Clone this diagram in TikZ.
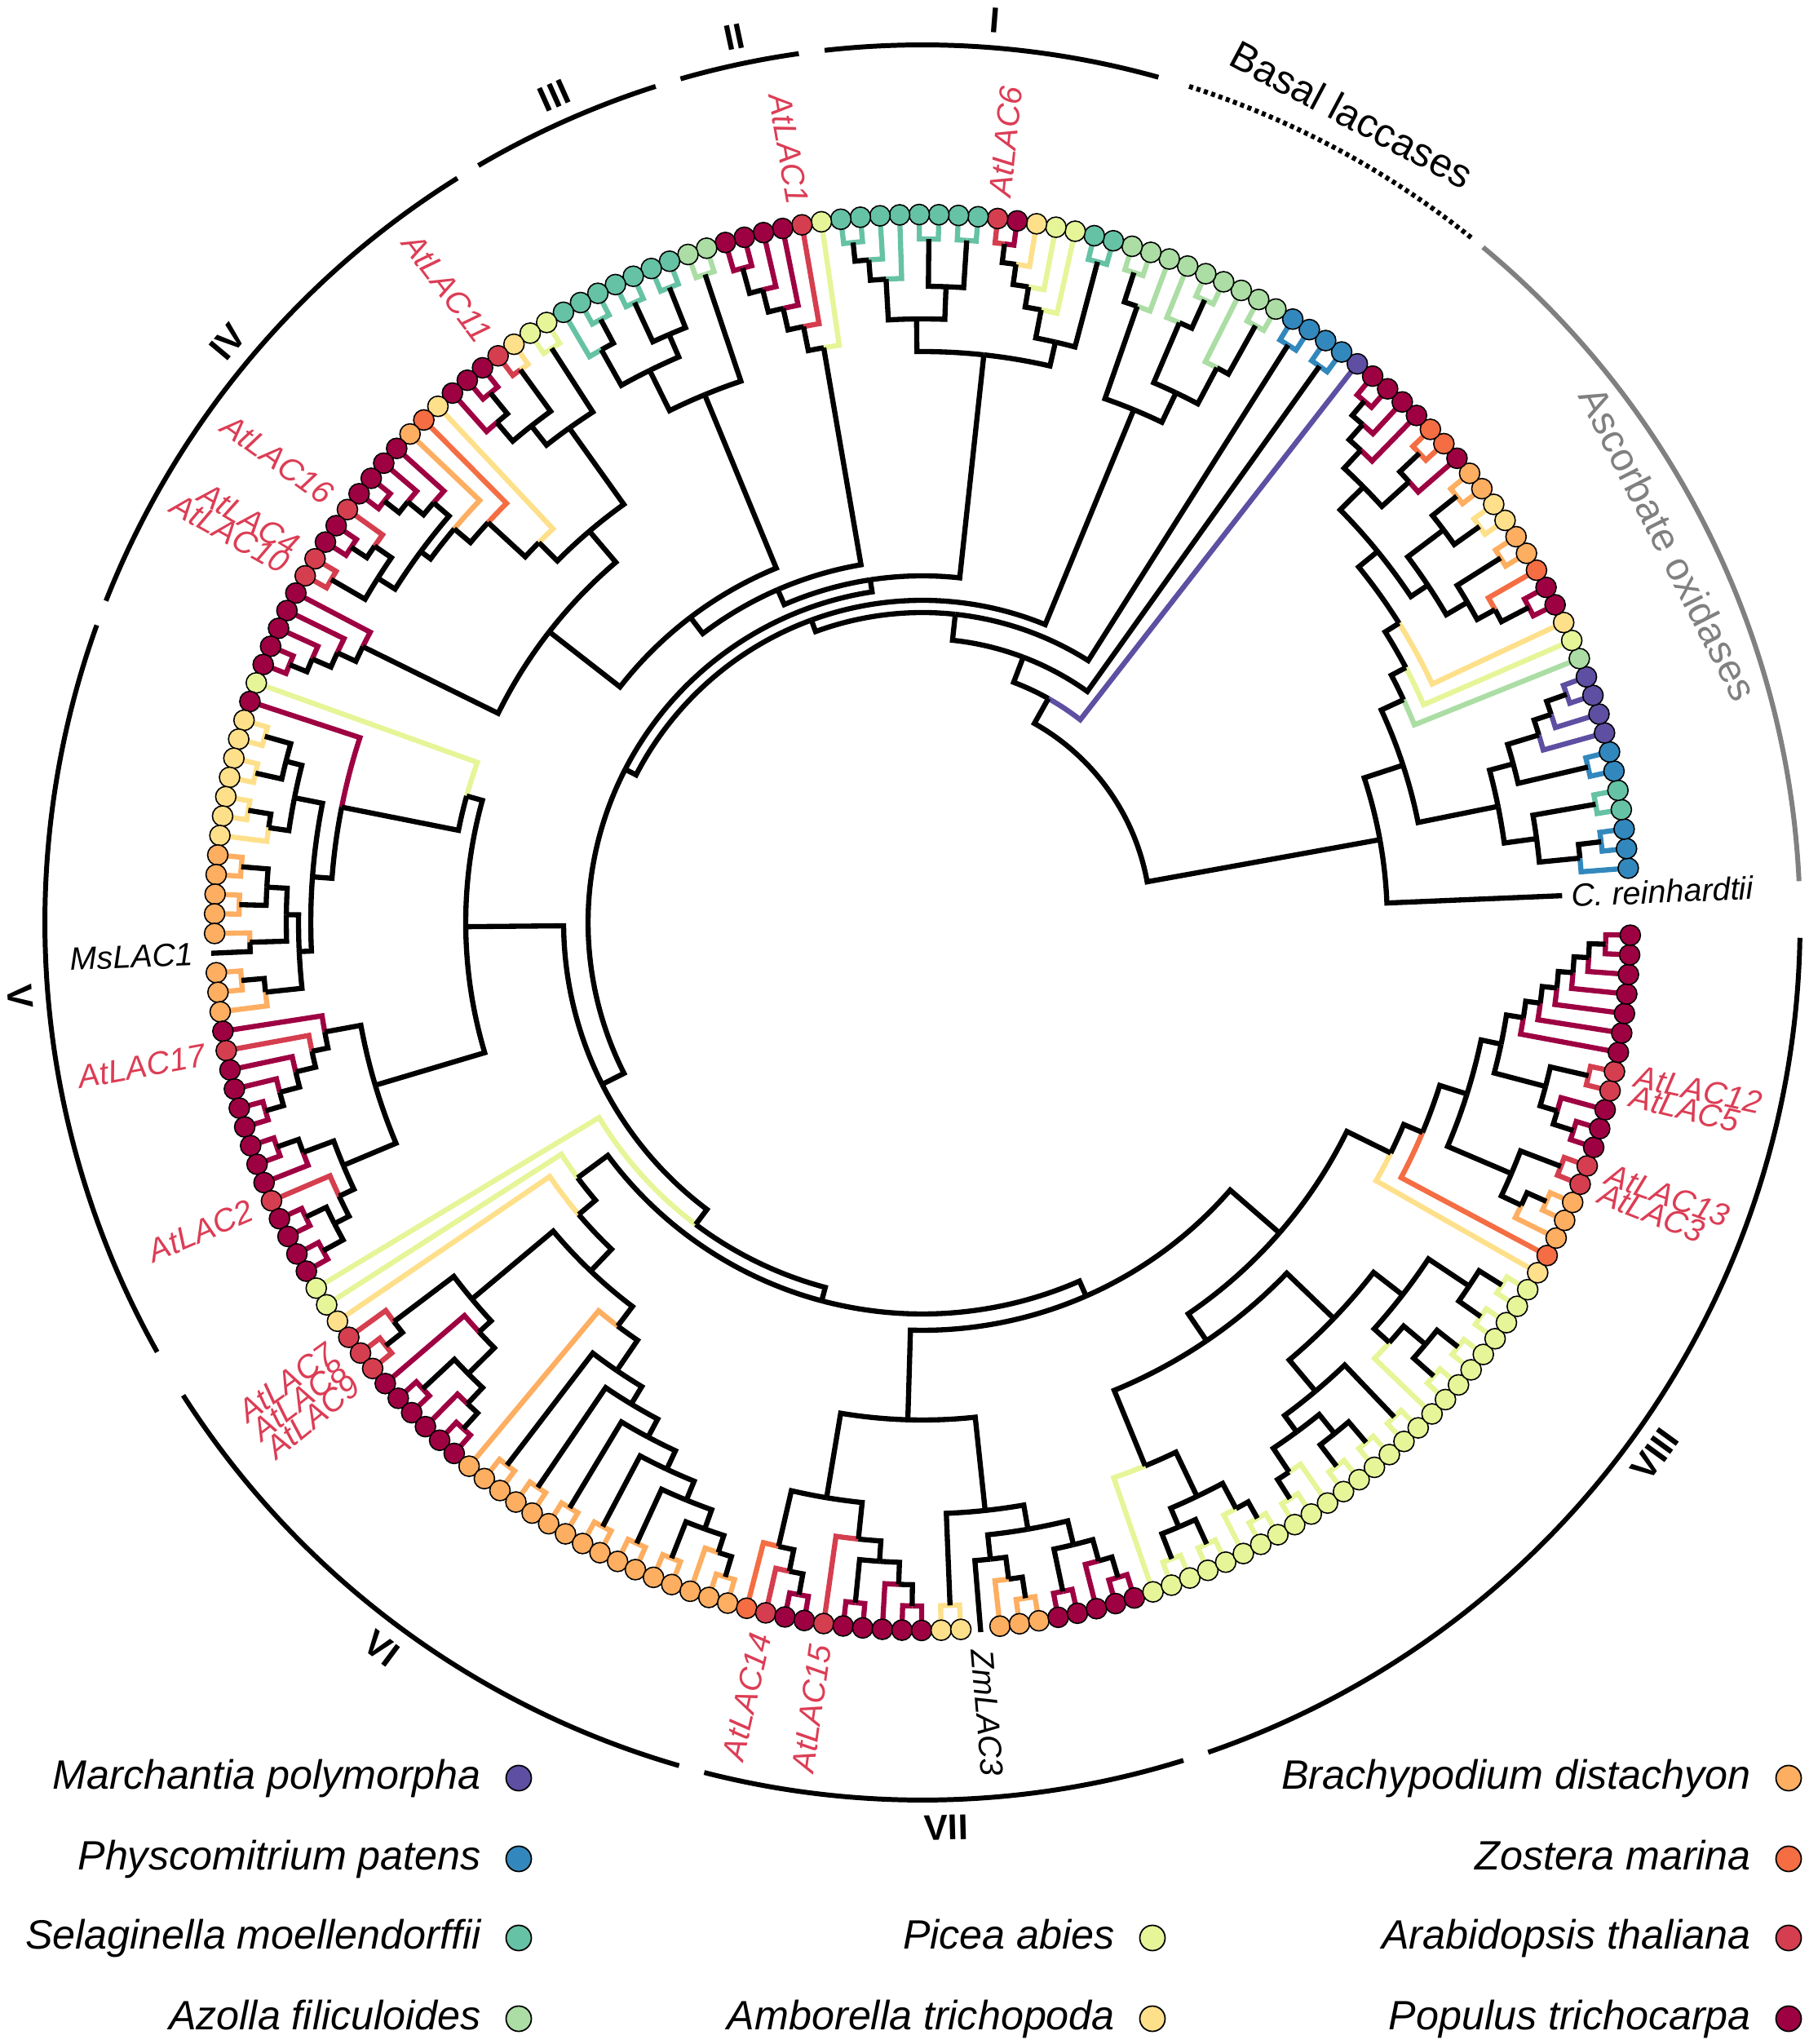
\documentclass[tikz,border=0pt]{standalone}
\usepackage{fontspec}
\setmainfont{Liberation Sans}
\usetikzlibrary{positioning}

\definecolor{mpol}{HTML}{5E4FA2}
\definecolor{ppat}{HTML}{3288BD}
\definecolor{smoe}{HTML}{66C2A5}
\definecolor{afil}{HTML}{ABDDA4}
\definecolor{pabi}{HTML}{E6F598}
\definecolor{atri}{HTML}{FEE08B}
\definecolor{bdis}{HTML}{FDAE61}
\definecolor{zmar}{HTML}{F46D43}
\definecolor{atha}{HTML}{D53E4F}
\definecolor{ptri}{HTML}{9E0142}
\definecolor{labred}{HTML}{DC3D55}
\definecolor{ascgray}{HTML}{808080}

\pgfdeclarelayer{fg}
\pgfsetlayers{main,fg}

% stack of open subtrees: angle, radius, colour of the stem
\newcount\stk
\newcount\lfn
\newcommand\putnode[3]{%
  \global\advance\stk by 1
  \expandafter\xdef\csname na\the\stk\endcsname{#1}%
  \expandafter\xdef\csname nr\the\stk\endcsname{#2}%
  \expandafter\xdef\csname nc\the\stk\endcsname{#3}}
% one tip, coloured by species
\newcommand\lf[1]{%
  \pgfmathsetmacro\leafang{4.4+1.59*\the\lfn}%
  \begin{pgfonlayer}{fg}\path[tipdot,fill=#1] (\leafang:86.8) circle[radius=1.25];\end{pgfonlayer}%
  \putnode{\leafang}{85.6}{#1}%
  \global\advance\lfn by 1\relax}
% a tip with no dot
\newcommand\gp{%
  \pgfmathsetmacro\leafang{4.4+1.59*\the\lfn}%
  \putnode{\leafang}{87.3}{black}%
  \global\advance\lfn by 1\relax}
% join the two last subtrees at radius #2
\newcommand\jn[2][black]{%
  \edef\kA{\the\numexpr\stk-1\relax}%
  \edef\aA{\csname na\kA\endcsname}\edef\rA{\csname nr\kA\endcsname}\edef\cA{\csname nc\kA\endcsname}%
  \edef\aB{\csname na\the\stk\endcsname}\edef\rB{\csname nr\the\stk\endcsname}\edef\cB{\csname nc\the\stk\endcsname}%
  \pgfmathsetmacro\aP{(\aA+\aB)/2}%
  \draw[twig,\cA] (\aP:#2) arc[start angle=\aP,end angle=\aA,radius=#2] -- (\aA:\rA);%
  \draw[twig,\cB] (\aP:#2) arc[start angle=\aP,end angle=\aB,radius=#2] -- (\aB:\rB);%
  \global\advance\stk by -2
  \putnode{\aP}{#2}{#1}}
% label of the last tip
\newcommand\lbl[2][labred]{%
  \pgfmathtruncatemacro\rgt{cos(\leafang)>0}%
  \ifnum\rgt=1
    \node[tiplab,#1,rotate=\leafang,anchor=west] (#2) at (\leafang:88.2) {#2};%
  \else
    \pgfmathsetmacro\lrot{\leafang+180}%
    \node[tiplab,#1,rotate=\lrot,anchor=east] (#2) at (\leafang:88.2) {#2};%
  \fi}

\tikzset{
  twig/.style={line width=1.8pt,line join=miter},
  tipdot/.style={draw=black,line width=0.45pt},
  tiplab/.style={font=\fontsize{11.2}{13}\selectfont\itshape,inner sep=1.2mm},
  cladearc/.style={line width=1.7pt},
  cladelab/.style={font=\fontsize{12.5}{15}\selectfont\bfseries},
  legdot/.style={circle,draw=black,line width=0.5pt,minimum size=3.1mm,inner sep=0pt},
  legtxt/.style={font=\fontsize{14.3}{17}\selectfont\itshape,inner sep=0pt},
}

\begin{document}
\begin{tikzpicture}[x=1mm,y=1mm]
\useasboundingbox (0,0) rectangle (221.7,250.6);

\begin{scope}[shift={(113.1,137.5)}]
% C. reinhardtii
\putnode{2.4}{78.5}{black}
\node[tiplab,black,anchor=west,rotate=2.4] (creinhardtii) at (2.4:78.4) {C. reinhardtii};
% ascorbate oxidases
\lf{ppat}\lf{ppat}\lf{ppat}\jn{83.8}\jn{81}
\lf{smoe}\lf{smoe}\jn{83.8}\jn{76}
\lf{ppat}\lf{ppat}\jn{83.8}
\lf{mpol}\lf{mpol}\lf{mpol}\lf{mpol}\jn{83.8}\jn{81.2}\jn{79}
\jn{75}\jn{72}
\lf{afil}\lf{pabi}\lf{atri}
\lf{ptri}\lf{ptri}\jn{83.8}\lf{zmar}\jn{80}
\lf{bdis}\lf{bdis}\jn{83.8}\jn{77.5}
\lf{atri}\lf{atri}\jn{83.8}\lf{bdis}\lf{bdis}\jn{83.8}\jn{80}
\jn{74.5}
\lf{ptri}\lf{zmar}\lf{zmar}\jn{83.8}\jn{80.5}
\lf{ptri}\lf{ptri}\lf{ptri}\lf{ptri}\jn{83.8}\jn{81.5}\jn{79}
\jn{76}\jn{72}\jn{69}\jn{67}\jn{65}
\jn{62}\jn{57}
% basal laccases
\lf{mpol}
\lf{ppat}\lf{ppat}\jn{83.8}
\lf{ppat}\lf{ppat}\jn{83.8}
\lf{afil}\lf{afil}\jn{83.8}\lf{afil}\jn{77}
\lf{afil}\lf{afil}\jn{83.8}\lf{afil}\jn{80}\jn{72}
\lf{afil}\lf{afil}\lf{afil}\jn{83.8}\jn{80}\jn{68}
% I
\lf{smoe}\lf{smoe}\jn{83.8}
\lf{pabi}\lf{pabi}\lf{atri}\lf{ptri}\lf{atha}\lbl{AtLAC6}\jn{83.8}\jn{81.5}\jn{79}\jn{76.5}
\jn{73}
\lf{smoe}\lf{smoe}\jn{83.8}\lf{smoe}\lf{smoe}\jn{83.8}\jn{78}
\lf{smoe}\lf{smoe}\lf{smoe}\lf{smoe}\jn{83.8}\jn{81.5}\jn{79}
\jn{74}\jn{70}
% II
\lf{pabi}\lf{atha}\lbl{AtLAC1}\lf{ptri}\lf{ptri}\lf{ptri}\lf{ptri}\jn{83.2}\jn{80}\jn{77.2}\jn{74.5}\jn{71.5}
% III
\lf{afil}\lf{afil}\jn{83.8}
\lf{smoe}\lf{smoe}\jn{83.8}\lf{smoe}\lf{smoe}\jn{83.8}\jn{78.5}
\lf{smoe}\lf{smoe}\jn{83.8}\lf{smoe}\jn{80.5}
\jn{75.5}\jn{70}
% IV
\lf{pabi}\lf{pabi}\jn{83.8}
\lf{atri}\lf{atha}\lbl{AtLAC11}\jn{83.8}
\lf{ptri}\lf{ptri}\jn{83.8}\lf{ptri}\jn{80.5}
\jn{77.5}\jn{74.5}
\lf{atri}\lf{zmar}\lf{bdis}
\lf{ptri}\lf{ptri}\lf{ptri}\lf{ptri}\jn{83.8}\jn{81.5}\jn{79}
\lf{atha}\lbl{AtLAC16}\lf{ptri}\lf{ptri}\jn{83.8}\jn{81.5}
\lf{atha}\lbl{AtLAC4}\lf{atha}\lbl{AtLAC10}\jn{83.8}
\jn{79}\jn{76.5}\jn{75}\jn{72.4}\jn{66.2}\jn{63}
\lf{ptri}\lf{ptri}\lf{ptri}\lf{ptri}\lf{ptri}\jn{83.8}\jn{81.5}\jn{79}\jn{76.5}
\jn{58}
\jn{47}\jn{44.5}\jn{42.5}
% V
\lf{pabi}\lf{ptri}
\lf{atri}\lf{atri}\jn{83.8}\lf{atri}\lf{atri}\jn{83.8}\jn{80.5}
\lf{atri}\lf{atri}\jn{83.8}\lf{atri}\jn{81}
\jn{78.5}
\lf{bdis}\lf{bdis}\jn{83.8}\lf{bdis}\lf{bdis}\jn{83.8}\jn{80.5}
\lf{bdis}\gp\lbl[black]{MsLAC1}\jn{82.5}
\jn{78}
\lf{bdis}\lf{bdis}\jn{83.8}\lf{bdis}\jn{81}
\jn{76.5}\jn{75}\jn{72.6}\jn{58}
\lf{ptri}\lf{atha}\lbl{AtLAC17}\lf{ptri}\lf{ptri}\lf{ptri}\lf{ptri}\jn{83.8}\jn{81.5}\jn{79}\jn{76.5}\jn{74.5}
\lf{ptri}\lf{ptri}\jn{83.8}\lf{ptri}\jn{81}
\lf{atha}\lbl{AtLAC2}\lf{ptri}\lf{ptri}\jn{83.8}\lf{ptri}\lf{ptri}\jn{83.8}\jn{81}\jn{79}
\jn{77}\jn{70}\jn{56}
% VI
\lf{pabi}\lf{pabi}\lf{atri}
\lf{atha}\lbl{AtLAC7}\lf{atha}\lbl{AtLAC8}\lf{atha}\lbl{AtLAC9}\jn{83.8}\jn{81.2}
\lf{ptri}\lf{ptri}\lf{ptri}\jn{83.8}\lf{ptri}\lf{ptri}\lf{ptri}\jn{83.8}\jn{81.2}\jn{78.5}\jn{74}
\jn{72}
\lf{bdis}
\lf{bdis}\lf{bdis}\jn{83.8}\lf{bdis}\lf{bdis}\jn{83.8}\lf{bdis}\lf{bdis}\jn{83.8}
\lf{bdis}\lf{bdis}\jn{83.8}\lf{bdis}\lf{bdis}\jn{83.8}\lf{bdis}\lf{bdis}\jn{83.8}
\lf{bdis}\lf{bdis}\lf{bdis}\jn{83.8}\jn{81.2}
\jn{79}\jn{76.5}\jn{74}\jn{71.5}\jn{69}\jn{66.5}\jn{62}
\jn{59}\jn{55.3}\jn{52.6}
% VII
\lf{zmar}\lf{atha}\lbl{AtLAC14}\lf{ptri}\lf{ptri}\jn{83.8}\jn{81.2}\jn{78.5}
\lf{atha}\lbl{AtLAC15}\lf{ptri}\lf{ptri}\jn{83.8}\lf{ptri}\lf{ptri}\lf{ptri}\jn{83.8}\jn{81.2}\jn{78.5}\jn{76}
\jn{71.5}
\lf{atri}\lf{atri}\jn{83.8}
\gp\lbl[black]{ZmLAC3}\lf{bdis}\lf{bdis}\lf{bdis}\jn{83.8}\jn{81.2}\jn{78.5}
\lf{ptri}\lf{ptri}\jn{83.8}\lf{ptri}\lf{ptri}\lf{ptri}\jn{83.8}\jn{81.2}\jn{78.5}
\jn{75.5}\jn{72.5}\jn{61}
% VIII
\lf{pabi}\lf{pabi}\lf{pabi}\jn{83.8}\lf{pabi}\lf{pabi}\jn{83.8}\jn{80.5}
\lf{pabi}\lf{pabi}\lf{pabi}\jn{83.8}\jn{81.5}\jn{78}\jn{72}
\lf{pabi}\lf{pabi}\jn{83.8}\lf{pabi}\jn{81}
\lf{pabi}\lf{pabi}\jn{83.8}\lf{pabi}\lf{pabi}\jn{83.8}\jn{80.5}\jn{77.5}
\lf{pabi}\lf{pabi}\jn{83.8}\jn{75}
\lf{pabi}\lf{pabi}\lf{pabi}\jn{83.8}\lf{pabi}\lf{pabi}\jn{83.8}\jn{80.5}\jn{77}
\lf{pabi}\lf{pabi}\jn{83.8}\lf{pabi}\lf{pabi}\jn{83.8}\jn{80.5}\jn{74.5}
\jn{70}\jn{62}
\lf{atri}\lf{zmar}
\lf{bdis}\lf{bdis}\lf{bdis}\jn{83.8}\jn{81.2}
\lf{atha}\lbl{AtLAC3}\lf{atha}\lbl{AtLAC13}\jn{83.8}
\jn{78.5}
\lf{ptri}\lf{ptri}\jn{83.8}\lf{ptri}\jn{81.2}
\lf{atha}\lbl{AtLAC5}\lf{atha}\lbl{AtLAC12}\jn{83.8}
\jn{79}
\lf{ptri}\lf{ptri}\lf{ptri}\lf{ptri}\lf{ptri}\lf{ptri}\lf{ptri}\jn{83.8}\jn{81.8}\jn{80}\jn{78.2}\jn{76.4}\jn{74.6}
\jn{72.5}\jn{70}\jn{66.5}\jn{64}
\jn{58}
% backbone
\jn{50}\jn{48}\jn{46.3}\jn{44}\jn{41}
\jn{39.5}\jn{38}\jn{34.8}\jn{31.5}\jn{28}

% clade brackets
\foreach \a/\b in {74.4/96.4,98.1/106,107.7/120.4,122/158.5,160.2/209.3,212.6/253.9,255.6/287.3,289/359}
  \draw[cladearc] (\a:107.6) arc[start angle=\a,end angle=\b,radius=107.6];
\foreach \t/\a in {I/85.4,II/102,III/114,IV/140.1,V/184.7,VI/233.3,VII/271.5,VIII/324}{
  \pgfmathsetmacro\lrot{\a<180 ? \a-90 : \a+90}
  \node[cladelab,rotate=\lrot] (cl\t) at (\a:111) {\t};
}
\draw[cladearc,dash pattern=on 0.5mm off 0.45mm] (51.3:107.6) arc[start angle=51.3,end angle=72.4,radius=107.6];
\node[font=\fontsize{14}{16}\selectfont,rotate=-28] (basal) at (62:112.2) {Basal laccases};
\draw[cladearc,ascgray] (2.7:107.6) arc[start angle=2.7,end angle=50.3,radius=107.6];
\node[font=\fontsize{13.8}{16}\selectfont,ascgray,rotate=-63.1] (ascorbate) at (26.9:102.6) {Ascorbate oxidases};
\end{scope}

% legend
\node[legdot,fill=mpol] (lgMp) at (63.6,32.6) {};
\node[legdot,fill=ppat] (lgPp) at (63.6,22.7) {};
\node[legdot,fill=smoe] (lgSm) at (63.6,13.0) {};
\node[legdot,fill=afil] (lgAf) at (63.6,3.1) {};
\node[legdot,fill=pabi] (lgPa) at (141.3,13.0) {};
\node[legdot,fill=atri] (lgAm) at (141.3,3.1) {};
\node[legdot,fill=bdis] (lgBd) at (219.3,32.6) {};
\node[legdot,fill=zmar] (lgZm) at (219.3,22.7) {};
\node[legdot,fill=atha] (lgAt) at (219.3,13.0) {};
\node[legdot,fill=ptri] (lgPt) at (219.3,3.1) {};
\node[legtxt,left=2.9mm of lgMp,anchor=mid east,yshift=-0.4mm] (ltMp) {Marchantia polymorpha};
\node[legtxt,left=2.9mm of lgPp,anchor=mid east,yshift=-0.4mm] (ltPp) {Physcomitrium patens};
\node[legtxt,left=2.9mm of lgSm,anchor=mid east,yshift=-0.4mm] (ltSm) {Selaginella moellendorffii};
\node[legtxt,left=2.9mm of lgAf,anchor=mid east,yshift=-0.4mm] (ltAf) {Azolla filiculoides};
\node[legtxt,left=2.9mm of lgPa,anchor=mid east,yshift=-0.4mm] (ltPa) {Picea abies};
\node[legtxt,left=2.9mm of lgAm,anchor=mid east,yshift=-0.4mm] (ltAm) {Amborella trichopoda};
\node[legtxt,left=2.9mm of lgBd,anchor=mid east,yshift=-0.4mm] (ltBd) {Brachypodium distachyon};
\node[legtxt,left=2.9mm of lgZm,anchor=mid east,yshift=-0.4mm] (ltZm) {Zostera marina};
\node[legtxt,left=2.9mm of lgAt,anchor=mid east,yshift=-0.4mm] (ltAt) {Arabidopsis thaliana};
\node[legtxt,left=2.9mm of lgPt,anchor=mid east,yshift=-0.4mm] (ltPt) {Populus trichocarpa};
\end{tikzpicture}
\end{document}
